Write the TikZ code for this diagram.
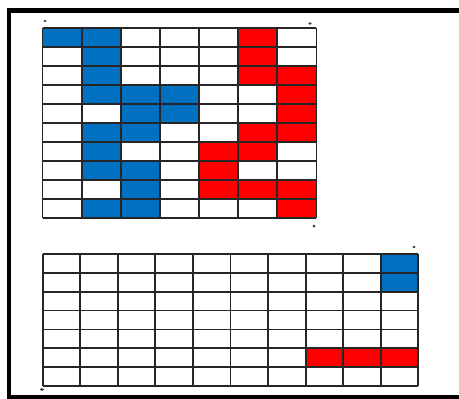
\documentclass[tikz,border=0pt]{standalone}
\definecolor{cblue}{HTML}{0070C0}
\definecolor{cred}{HTML}{FF0000}
\definecolor{dotc}{HTML}{2A3550}
\tikzset{
  gridline/.style={draw=black!85, line width=1.8pt},
  frameline/.style={draw=black, line width=4.5pt},
  bluecell/.style={fill=cblue},
  redcell/.style={fill=cred},
  speck/.style={fill=dotc, draw=none}
}
\begin{document}
\begin{tikzpicture}[x=1pt,y=-1pt]
\useasboundingbox (0,0) rectangle (459,399);
\begin{scope}
\clip (0,0) rectangle (459,399);
\fill[white] (0,0) rectangle (459,399);
\draw[frameline] (9,10.5) rectangle (480,397.5);
% top grid: 7 cols x 10 rows
\def\tx{42.5}\def\ty{28.3}\def\tw{39.14}\def\th{18.97}
\foreach \r/\c in {0/0,0/1,1/1,2/1,3/1,3/2,3/3,4/2,4/3,5/1,5/2,6/1,7/1,7/2,8/2,9/1,9/2}
  \fill[bluecell] (\tx+\c*\tw,\ty+\r*\th) rectangle ++(\tw,\th);
\foreach \r/\c in {0/5,1/5,2/5,2/6,3/6,4/6,5/5,5/6,6/4,6/5,7/4,8/4,8/5,8/6,9/6}
  \fill[redcell] (\tx+\c*\tw,\ty+\r*\th) rectangle ++(\tw,\th);
\foreach \i in {0,...,7}
  \draw[gridline] (\tx+\i*\tw,\ty) -- (\tx+\i*\tw,\ty+10*\th);
\foreach \j in {0,...,10}
  \draw[gridline] (\tx,\ty+\j*\th) -- (\tx+7*\tw,\ty+\j*\th);
% bottom grid: 10 cols x 7 rows
\def\bx{42.7}\def\by{254}\def\bw{37.56}\def\bh{18.86}
\foreach \r/\c in {0/9,1/9}
  \fill[bluecell] (\bx+\c*\bw,\by+\r*\bh) rectangle ++(\bw,\bh);
\foreach \r/\c in {5/7,5/8,5/9}
  \fill[redcell] (\bx+\c*\bw,\by+\r*\bh) rectangle ++(\bw,\bh);
\foreach \i in {0,...,10}
  \draw[gridline] (\bx+\i*\bw,\by) -- (\bx+\i*\bw,\by+7*\bh);
\foreach \j in {0,...,7}
  \draw[gridline] (\bx,\by+\j*\bh) -- (\bx+10*\bw,\by+\j*\bh);
% small specks
\fill[speck] (45,21) ellipse (1.6 and 1);
\fill[speck] (310,23.5) ellipse (1.6 and 1.4);
\fill[speck] (314,226) circle (1.5);
\fill[speck] (414,247) ellipse (1.6 and 1.2);
\fill[speck] (42,389.5) ellipse (2 and 1.2);
\end{scope}
\end{tikzpicture}
\end{document}
